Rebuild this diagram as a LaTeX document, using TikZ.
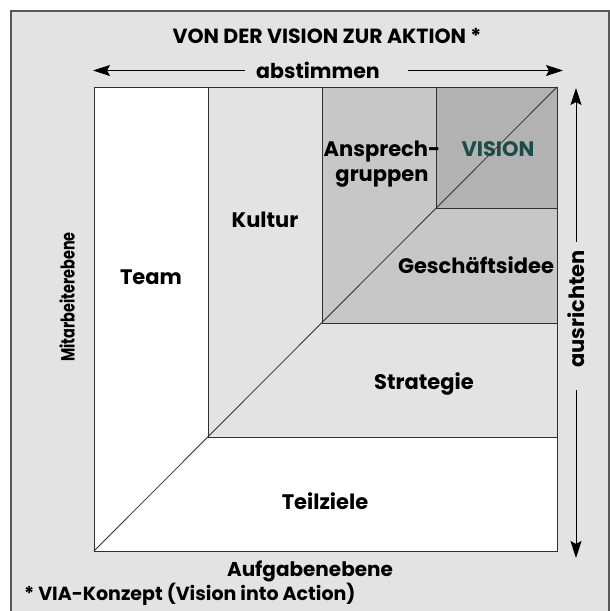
\documentclass[tikz,border=0pt]{standalone}
\usepackage{fontspec}
\setmainfont{Poppins}
\usetikzlibrary{arrows.meta}
\definecolor{viabg}{HTML}{E3E3E3}
\definecolor{vialight}{HTML}{E3E3E3}
\definecolor{viamid}{HTML}{C7C7C7}
\definecolor{viadark}{HTML}{B2B2B2}
\definecolor{viateal}{HTML}{1C4B48}
\definecolor{vialine}{HTML}{303030}
\begin{document}
\begin{tikzpicture}[x=1pt, y=-1pt,
    lbl/.style={font=\fontsize{21}{25}\selectfont\bfseries, inner sep=0pt},
    side/.style={lbl, rotate=90},
    tip/.style={-{Stealth[length=17pt,width=11pt,inset=3pt]}, line width=0.8pt}]
  \useasboundingbox (0,0) rectangle (610,611);
  \draw[fill=viabg, draw=gray!70!black, line width=1.2pt] (11,11) rectangle (609,625);
  \foreach \i/\j/\col in {94/551/white, 208/437/vialight, 322/323/viamid, 436/208/viadark} {
    \draw[fill=\col, draw=vialine, line width=1pt] (\i,87) rectangle (557,\j);
  }
  \draw[vialine, line width=0.8pt] (94,551) -- (557,87);
  \node[lbl, font=\fontsize{20.5}{24}\selectfont\bfseries, anchor=base] (title) at (327,43) {VON DER VISION ZUR AKTION *};
  \node[lbl, font=\fontsize{20.5}{24}\selectfont\bfseries, anchor=base] (abst) at (318,78) {abstimmen};
  \coordinate (abstL) at (93,70.5);
  \coordinate (abstR) at (563,70.5);
  \draw[tip] (abst.west |- abstL) ++(-11pt,0) -- (abstL);
  \draw[tip] (abst.east |- abstR) ++(28pt,0) -- (abstR);
  \node[side] (ausr) at (576,309) {ausrichten};
  \coordinate (ausrT) at (576,88);
  \coordinate (ausrB) at (576,558);
  \draw[tip] ([yshift=8pt]ausr.east) -- (ausrT);
  \draw[tip] ([yshift=-22pt]ausr.west) -- (ausrB);
  \node[side, font=\fontsize{19}{22}\selectfont\bfseries] (mitarb) at (67,297) {\scalebox{0.76}[1]{Mitarbeiterebene}};
  \node[lbl, font=\fontsize{20}{24}\selectfont\bfseries, anchor=base] (aufg) at (310,576) {Aufgabenebene};
  \node[lbl, font=\fontsize{19}{23}\selectfont\bfseries, anchor=base west] (note) at (24,600) {* VIA-Konzept (Vision into Action)};
  \node[lbl, anchor=base] (team) at (151,284) {Team};
  \node[lbl, anchor=base] (kultur) at (265,227) {Kultur};
  \node[lbl, align=center] (ansp) at (382,164) {Ansprech-\\gruppen};
  \node[lbl, text=viateal, anchor=base] (vision) at (498,156) {VISION};
  \node[lbl, anchor=base] (idee) at (476,273) {Gesch\"aftsidee};
  \node[lbl, anchor=base] (strat) at (424,389) {Strategie};
  \node[lbl, anchor=base] (ziele) at (325,509) {Teilziele};
\end{tikzpicture}
\end{document}
